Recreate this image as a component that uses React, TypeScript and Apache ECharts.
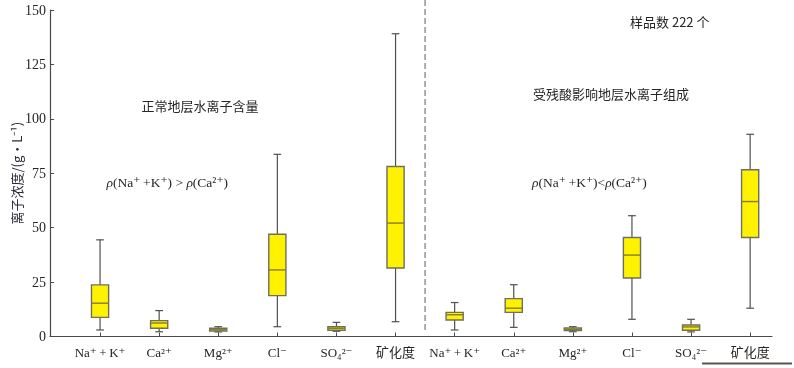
import React, { useEffect, useRef } from 'react';
import * as echarts from 'echarts';

const categories = ['Na⁺\u2009+\u2009K⁺', 'Ca²⁺', 'Mg²⁺', 'Cl⁻', 'SO₄²⁻', '矿化度', 'Na⁺\u2009+\u2009K⁺', 'Ca²⁺', 'Mg²⁺', 'Cl⁻', 'SO₄²⁻', '矿化度'];
const minVals = [3.0, 2.2, 2.1, 4.5, 2.4, 6.8, 3.0, 4.2, 2.2, 7.9, 2.1, 13.0];
const q1Vals = [8.8, 3.8, 2.5, 18.8, 2.9, 31.5, 7.6, 11.1, 2.7, 26.9, 2.9, 45.5];
const medianVals = [15.3, 6.2, 3.1, 30.6, 3.8, 52.1, 10.0, 13.0, 3.3, 37.4, 4.4, 62.0];
const q3Vals = [23.7, 7.3, 3.8, 47.0, 4.5, 78.1, 11.1, 17.4, 3.9, 45.5, 5.3, 76.6];
const maxVals = [44.4, 11.9, 4.5, 83.7, 6.5, 139.1, 15.6, 23.8, 4.5, 55.5, 7.9, 92.9];
const yMin = 0;
const yMax = 150;
const yInterval = 25;

const SERIF = '"Liberation Serif", "DejaVu Serif", "Noto Sans CJK SC", serif';
const CJK = '"Noto Sans CJK SC", "Liberation Serif", sans-serif';
const TEXT = '#262626';
const AXIS = '#4a4a4a';

export default function App() {
  const ref = useRef<HTMLDivElement>(null);
  useEffect(() => {
    if (!ref.current) return;
    const chart = echarts.init(ref.current, undefined, { renderer: 'svg' });
    const data = categories.map((_, i) => [i, minVals[i], q1Vals[i], medianVals[i], q3Vals[i], maxVals[i]]);

    const renderItem = (params: any, api: any) => {
      const x = api.value(0);
      const pMin = api.coord([x, api.value(1)]);
      const pQ1 = api.coord([x, api.value(2)]);
      const pMed = api.coord([x, api.value(3)]);
      const pQ3 = api.coord([x, api.value(4)]);
      const pMax = api.coord([x, api.value(5)]);
      const cx = pMin[0];
      const band = api.size([1, 0])[0];
      const bw = band * 0.29;
      const cw = band * 0.13;
      const wStyle = { stroke: '#505050', lineWidth: 1.2 };
      return {
        type: 'group',
        children: [
          { type: 'line', shape: { x1: cx, y1: pMax[1], x2: cx, y2: pQ3[1] }, style: wStyle },
          { type: 'line', shape: { x1: cx, y1: pQ1[1], x2: cx, y2: pMin[1] }, style: wStyle },
          { type: 'line', shape: { x1: cx - cw / 2, y1: pMax[1], x2: cx + cw / 2, y2: pMax[1] }, style: wStyle },
          { type: 'line', shape: { x1: cx - cw / 2, y1: pMin[1], x2: cx + cw / 2, y2: pMin[1] }, style: wStyle },
          {
            type: 'rect',
            shape: { x: cx - bw / 2, y: pQ3[1], width: bw, height: pQ1[1] - pQ3[1] },
            style: { fill: '#fff200', stroke: '#6f6f60', lineWidth: 1.4 },
          },
          {
            type: 'line',
            shape: { x1: cx - bw / 2, y1: pMed[1], x2: cx + bw / 2, y2: pMed[1] },
            style: { stroke: '#857c2a', lineWidth: 1.4 },
          },
        ],
      };
    };

    const option: any = {
      animation: false,
      grid: [
        { left: 50, right: 22, top: 10, bottom: 31.5, outerBoundsMode: 'none', containLabel: false },
        { left: 70.5, right: 14.3, top: 10, bottom: 31.5, outerBoundsMode: 'none', containLabel: false },
      ],
      xAxis: [
        {
          gridIndex: 0,
          type: 'value',
          min: 0,
          max: 1,
          axisLine: { show: true, lineStyle: { color: AXIS, width: 1.2 } },
          axisTick: { show: false },
          axisLabel: { show: false },
          splitLine: { show: false },
        },
        {
          gridIndex: 1,
          type: 'category',
          data: categories,
          axisLine: { show: false },
          axisTick: { show: true, inside: true, alignWithLabel: true, length: 4, lineStyle: { color: AXIS } },
          axisLabel: { interval: 0, margin: 9, fontFamily: SERIF, fontSize: 13, color: TEXT },
          splitLine: { show: false },
        },
      ],
      yAxis: [
        {
          gridIndex: 0,
          type: 'value',
          min: yMin,
          max: yMax,
          interval: yInterval,
          name: '离子浓度/(g·L⁻¹)',
          nameLocation: 'middle',
          nameGap: 27,
          nameMoveOverlap: false,
          nameTextStyle: { fontFamily: CJK, fontSize: 13, color: '#2b2b3a' },
          axisLine: { show: true, lineStyle: { color: AXIS, width: 1.2 } },
          axisTick: { show: true, inside: true, length: 4, lineStyle: { color: AXIS } },
          axisLabel: { margin: 4, fontFamily: SERIF, fontSize: 14, color: TEXT },
          splitLine: { show: false },
        },
        {
          gridIndex: 1,
          type: 'value',
          min: yMin,
          max: yMax,
          interval: yInterval,
          show: false,
          splitLine: { show: false },
        },
      ],
      series: [
        {
          type: 'custom',
          xAxisIndex: 1,
          yAxisIndex: 1,
          renderItem,
          encode: { x: 0, y: [1, 2, 3, 4, 5] },
          data,
          clip: false,
        },
      ],
    };
    chart.setOption(option);

    const x5 = chart.convertToPixel({ xAxisIndex: 1 }, 5) as number;
    const x6 = chart.convertToPixel({ xAxisIndex: 1 }, 6) as number;
    const sepX = (x5 + x6) / 2;
    const yBottom = chart.convertToPixel({ yAxisIndex: 1 }, 2) as number;

    const rhoRich = {
      i: { fontFamily: SERIF, fontSize: 13.5, fontStyle: 'italic', fill: TEXT },
      n: { fontFamily: SERIF, fontSize: 13.5, fill: TEXT },
    };

    chart.setOption({
      graphic: [
        {
          type: 'line',
          shape: { x1: sepX, y1: 0, x2: sepX, y2: yBottom },
          style: { stroke: '#a5a5a5', lineWidth: 1.8, lineDash: [6, 3] },
        },
        {
          type: 'line',
          shape: { x1: 702, y1: 363.5, x2: 792, y2: 363.5 },
          style: { stroke: '#5a5550', lineWidth: 2.2 },
        },
        {
          type: 'text',
          x: 141.5,
          y: 105,
          style: { text: '正常地层水离子含量', fontFamily: CJK, fontSize: 13, fill: TEXT, textAlign: 'left', textVerticalAlign: 'middle' },
        },
        {
          type: 'text',
          x: 533,
          y: 93.5,
          style: { text: '受残酸影响地层水离子组成', fontFamily: CJK, fontSize: 13, fill: TEXT, textAlign: 'left', textVerticalAlign: 'middle' },
        },
        {
          type: 'text',
          x: 630,
          y: 21.5,
          style: { text: '样品数 222 个', fontFamily: CJK, fontSize: 13, fill: TEXT, textAlign: 'left', textVerticalAlign: 'middle' },
        },
        {
          type: 'text',
          x: 106.5,
          y: 182,
          style: {
            text: '{i|ρ}{n|(Na⁺\u2009+K⁺) > }{i|ρ}{n|(Ca²⁺)}',
            rich: rhoRich,
            fontFamily: SERIF,
            fontSize: 13.5,
            fill: TEXT,
            textAlign: 'left',
            textVerticalAlign: 'middle',
          },
        },
        {
          type: 'text',
          x: 532,
          y: 182,
          style: {
            text: '{i|ρ}{n|(Na⁺\u2009+K⁺)<}{i|ρ}{n|(Ca²⁺)}',
            rich: rhoRich,
            fontFamily: SERIF,
            fontSize: 13.5,
            fill: TEXT,
            textAlign: 'left',
            textVerticalAlign: 'middle',
          },
        },
      ],
    });

    return () => chart.dispose();
  }, []);

  return <div ref={ref} style={{ position: 'fixed', left: 0, top: 0, width: 794, height: 368 }} />;
}
